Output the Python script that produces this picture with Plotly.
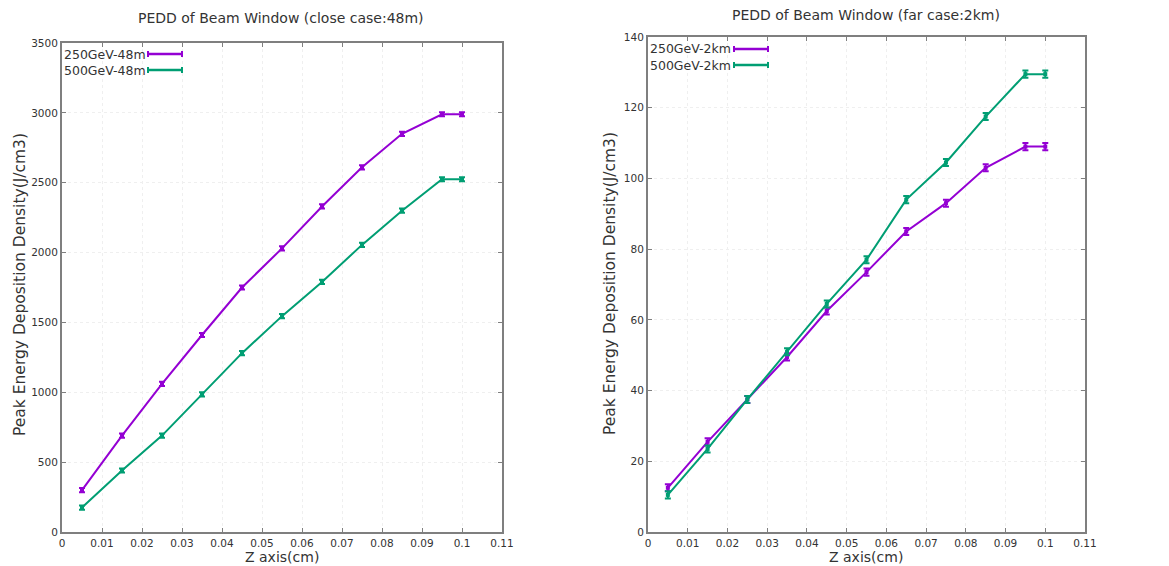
import plotly.graph_objects as go

z = [0.005, 0.015, 0.025, 0.035, 0.045, 0.055, 0.065, 0.075, 0.085, 0.095, 0.1]

close_250 = [300, 690, 1060, 1410, 1750, 2030, 2330, 2610, 2850, 2990, 2990]
close_500 = [175, 440, 690, 985, 1280, 1545, 1790, 2055, 2300, 2525, 2525]
close_err = [15] * 11

far_250 = [12.5, 25.5, 37.5, 49.5, 62.5, 73.5, 85, 93, 103, 109, 109]
far_500 = [10.5, 23.5, 37.5, 51, 64.5, 77, 94, 104.5, 117.5, 129.5, 129.5]
far_err = [1.0] * 11

labels_close = ["250GeV-48m", "500GeV-48m"]
labels_far = ["250GeV-2km", "500GeV-2km"]

PURPLE = "#9400d3"
GREEN = "#009e73"
W, H = 1169, 566

fig = go.Figure()

def add(x, y, err, color, name, xa, ya):
    fig.add_trace(go.Scatter(
        x=x, y=y, mode="lines+markers", name=name,
        line=dict(color=color, width=2),
        marker=dict(color=color, size=4, symbol="square"),
        error_y=dict(type="data", array=err, visible=True, color=color, thickness=2, width=3),
        xaxis=xa, yaxis=ya, showlegend=False))

add(z, close_250, close_err, PURPLE, labels_close[0], "x", "y")
add(z, close_500, close_err, GREEN, labels_close[1], "x", "y")
add(z, far_250, far_err, PURPLE, labels_far[0], "x2", "y2")
add(z, far_500, far_err, GREEN, labels_far[1], "x2", "y2")

ax_common = dict(showline=True, linecolor="#7f7f7f", linewidth=2, mirror="ticks",
                 ticks="inside", ticklen=4, tickcolor="#7f7f7f", automargin=False,
                 showgrid=True, gridcolor="#efefef", griddash="dot", gridwidth=1,
                 zeroline=False, tickfont=dict(family="DejaVu Sans", size=10.5, color="#333333"))

fig.update_layout(
    width=W, height=H, margin=dict(l=0, r=0, t=0, b=0),
    paper_bgcolor="white", plot_bgcolor="white",
    xaxis=dict(domain=[62 / W, 502 / W], range=[0, 0.11], dtick=0.01, anchor="y", **ax_common),
    yaxis=dict(domain=[(H - 532) / H, (H - 43) / H], range=[0, 3500], dtick=500, anchor="x", **ax_common),
    xaxis2=dict(domain=[648 / W, 1085 / W], range=[0, 0.11], dtick=0.01, anchor="y2", **ax_common),
    yaxis2=dict(domain=[(H - 532) / H, (H - 37) / H], range=[0, 140], dtick=20, anchor="x2", **ax_common),
)

annos = []
def txt(x, y, s, size, angle=0, xanchor="center"):
    annos.append(dict(x=x / W, y=1 - y / H, xref="paper", yref="paper", text=s, showarrow=False,
                      textangle=angle, xanchor=xanchor, yanchor="middle",
                      font=dict(family="DejaVu Sans", size=size, color="#333333")))

txt(281, 18, "PEDD of Beam Window (close case:48m)", 14)
txt(866, 15, "PEDD of Beam Window (far case:2km)", 14)
txt(282, 557, "Z axis(cm)", 14)
txt(866, 557, "Z axis(cm)", 14)
txt(20, 285, "Peak Energy Deposition Density(J/cm3)", 15.5, angle=-90)
txt(610, 284, "Peak Energy Deposition Density(J/cm3)", 15.5, angle=-90)

shapes = []
def legend_entry(xt, y, label, color, x0, x1):
    annos.append(dict(x=xt / W, y=1 - y / H, xref="paper", yref="paper", text=label, showarrow=False,
                      xanchor="left", yanchor="middle",
                      font=dict(family="DejaVu Sans", size=12.5, color="#333333")))
    yp = 1 - y / H
    shapes.append(dict(type="line", xref="paper", yref="paper", x0=x0 / W, x1=x1 / W, y0=yp, y1=yp,
                       line=dict(color=color, width=2.5)))
    for xx in (x0, x1):
        shapes.append(dict(type="line", xref="paper", yref="paper", x0=xx / W, x1=xx / W,
                           y0=yp - 3 / H, y1=yp + 3 / H, line=dict(color=color, width=2)))

legend_entry(62, 54, labels_close[0], PURPLE, 148, 182)
legend_entry(62, 70, labels_close[1], GREEN, 148, 182)
legend_entry(648, 49, labels_far[0], PURPLE, 734, 768)
legend_entry(648, 65, labels_far[1], GREEN, 734, 768)

fig.update_layout(annotations=annos, shapes=shapes)
fig.write_html("out.html", config={"displayModeBar": False},
               post_script="document.body.style.margin='0';document.body.style.overflow='hidden';")
